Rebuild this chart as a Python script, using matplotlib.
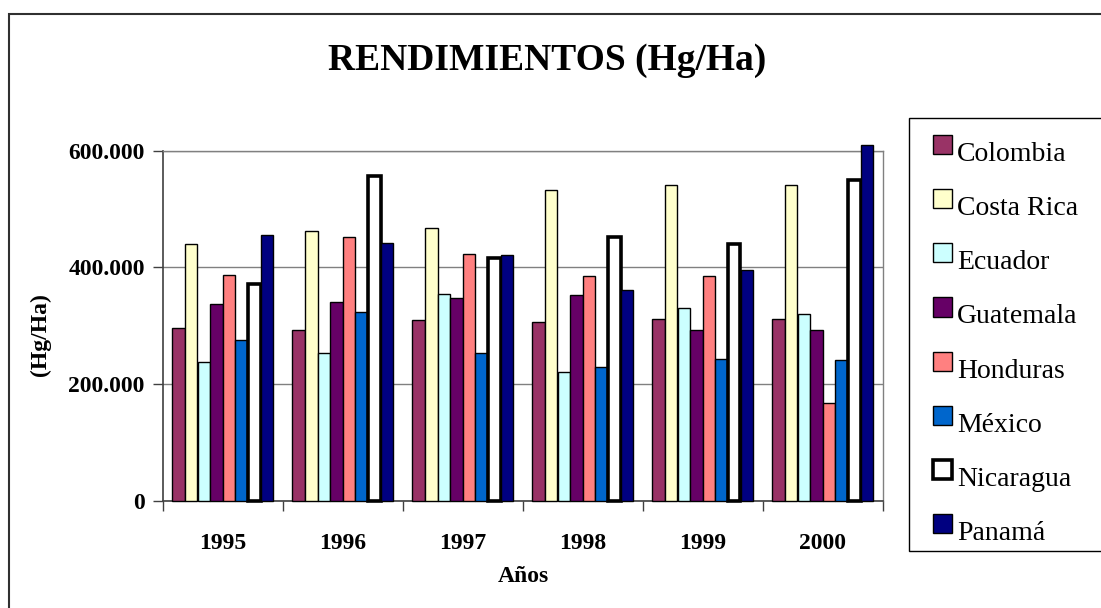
import matplotlib.pyplot as plt
import numpy as np
from matplotlib.patches import Rectangle
from matplotlib.legend_handler import HandlerPatch

plt.rcParams['font.family'] = ['Liberation Serif', 'DejaVu Serif']

years = ['1995', '1996', '1997', '1998', '1999', '2000']
countries = ['Colombia', 'Costa Rica', 'Ecuador', 'Guatemala', 'Honduras',
             'México', 'Nicaragua', 'Panamá']

# rendimientos (Hg/Ha) por pais, 1995-2000
colombia = [296000, 292600, 309100, 306900, 311400, 311400]
costa_rica = [440600, 462300, 467400, 532600, 540600, 540600]
ecuador = [237700, 253700, 354300, 220000, 329700, 320600]
guatemala = [336600, 340600, 347400, 352600, 293100, 293100]
honduras = [386800, 452600, 422900, 385100, 385700, 166900]
mexico = [276000, 322900, 252600, 228600, 243400, 241100]
nicaragua = [371400, 556600, 415400, 452600, 440000, 549100]
panama = [454900, 441100, 420600, 361100, 394900, 610000]

series = [colombia, costa_rica, ecuador, guatemala, honduras, mexico, nicaragua, panama]
colors = ['#993366', '#FFFFCC', '#CCFFFF', '#660066', '#FF8080',
          '#0066CC', '#FFFFFF', '#000080']

W, H = 1101, 608
fig = plt.figure(figsize=(W / 100, H / 100), dpi=100)
ax = fig.add_axes([162.7 / W, 1 - 500.7 / H, 720 / W, 350 / H])

x = np.arange(len(years))
bw = 0.105
handles = []
for j, (vals, c) in enumerate(zip(series, colors)):
    lw = 2.6 if countries[j] == 'Nicaragua' else 1.0
    bars = ax.bar(x + (j - 3.5) * bw, vals, width=bw, color=c, edgecolor='black',
                  linewidth=lw, zorder=3, label=countries[j])
    for b in bars:
        b.set_clip_on(False)
    handles.append(bars[0])

ax.set_xlim(-0.5, len(years) - 0.5)
ax.set_ylim(0, 600000)
ax.set_yticks([0, 200000, 400000, 600000])
ax.set_yticklabels(['0', '200.000', '400.000', '600.000'])
ax.yaxis.grid(True, color='#808080', linewidth=1.0, zorder=0)
ax.set_axisbelow(True)

ax.set_xticks(x)
ax.set_xticklabels(years)
ax.set_xticks(np.arange(-0.5, len(years)), minor=True)
ax.tick_params(axis='x', which='major', length=0, pad=23, labelsize=17)
ax.tick_params(axis='x', which='minor', length=7, width=1, color='#404040', direction='out')
ax.tick_params(axis='y', length=7, width=1, color='#404040', pad=6, labelsize=17)
for lab in ax.get_xticklabels() + ax.get_yticklabels():
    lab.set_fontweight('bold')

for s in ['left', 'bottom']:
    ax.spines[s].set_color('#404040')
    ax.spines[s].set_linewidth(1.2)
for s in ['top', 'right']:
    ax.spines[s].set_color('#808080')
    ax.spines[s].set_linewidth(1.0)

fig.text(547 / W, 1 - 70 / H, 'RENDIMIENTOS (Hg/Ha)', fontsize=27, fontweight='bold',
         ha='center', va='baseline')
fig.text(523 / W, 1 - 582 / H, 'Años', fontsize=17, fontweight='bold',
         ha='center', va='baseline')
fig.text(40 / W, 1 - 335 / H, '(Hg/Ha)', fontsize=17, fontweight='bold',
         ha='center', va='center', rotation=90)

# marco exterior del grafico
fig.patches.append(Rectangle((9 / W, -0.05), 1.1, 1 - 14 / H + 0.05, transform=fig.transFigure,
                             fill=False, edgecolor='#303030', linewidth=1.5))
# caja de la leyenda
fig.patches.append(Rectangle((909 / W, 1 - 551 / H), (1110 - 909) / W, (551 - 118) / H,
                             transform=fig.transFigure, facecolor='white',
                             edgecolor='black', linewidth=1.0, zorder=1))


def raised_box(legend, orig_handle, xdescent, ydescent, width, height, fontsize):
    return Rectangle((-xdescent, -ydescent + 0.35 * height), width, height)


leg = fig.legend(handles, countries, loc='upper left',
                 bbox_to_anchor=(909 / W, 1 - 118 / H),
                 fontsize=20, frameon=False, borderaxespad=0, borderpad=0.85,
                 labelspacing=1.04, handlelength=0.68, handleheight=0.68,
                 handletextpad=0.2,
                 handler_map={Rectangle: HandlerPatch(patch_func=raised_box)})
leg.set_zorder(2)

fig.savefig('out.png', dpi=100)
